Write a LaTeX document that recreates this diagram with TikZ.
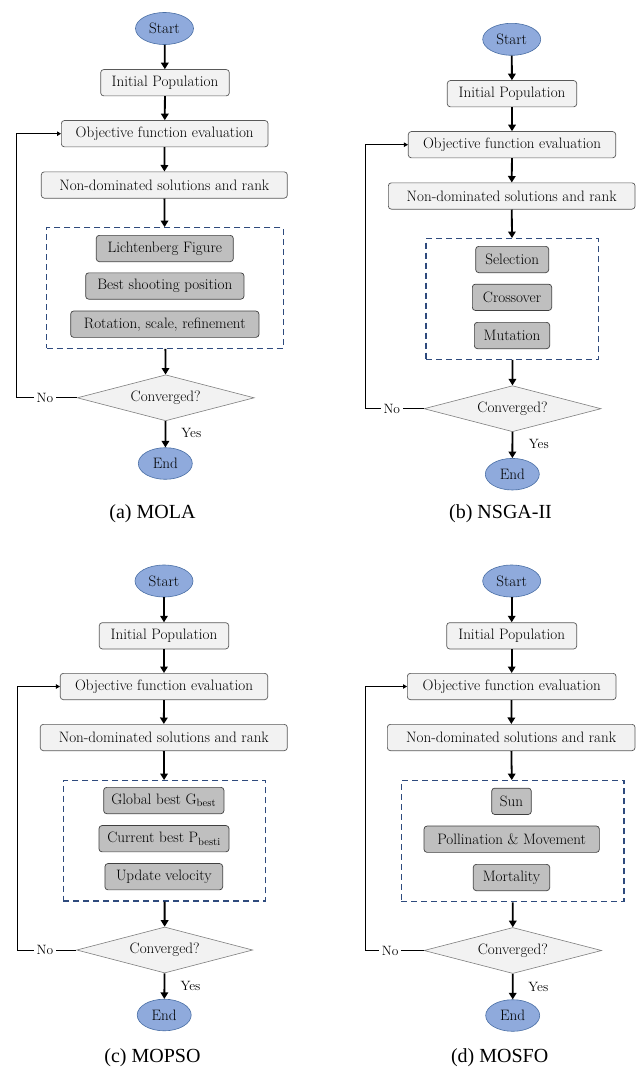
\documentclass[tikz,border=0pt]{standalone}
\usepackage{fontspec}
\newfontfamily\capfont{Liberation Serif}
\usetikzlibrary{shapes.geometric,arrows.meta}
\definecolor{startfill}{HTML}{8FAADC}
\definecolor{startdraw}{HTML}{4A6FA5}
\definecolor{lightfill}{HTML}{F2F2F2}
\definecolor{lightdraw}{HTML}{595959}
\definecolor{greyfill}{HTML}{BFBFBF}
\definecolor{greydraw}{HTML}{404040}
\definecolor{navy}{HTML}{2E4A7D}
\definecolor{diadraw}{HTML}{7F7F7F}
\tikzset{
 x=1pt,y=-1pt,
 boxfont/.style={font=\fontsize{15.1}{17}\selectfont},
 term/.style={ellipse, draw=startdraw, fill=startfill, line width=0.6pt, minimum width=58pt, minimum height=32pt, inner sep=0pt, boxfont},
 lbox/.style={rectangle, rounded corners=3pt, draw=lightdraw, fill=lightfill, line width=0.7pt, minimum height=26.3pt, inner sep=0pt, boxfont, minimum width=#1},
 gbox/.style={rectangle, rounded corners=3pt, draw=greydraw, fill=greyfill, line width=0.7pt, minimum height=26.3pt, inner sep=0pt, boxfont, minimum width=#1},
 dbox/.style={rectangle, draw=navy, line width=1.3pt, dash pattern=on 6pt off 4pt, inner sep=0pt},
 dia/.style={diamond, draw=diadraw, fill=lightfill, line width=0.6pt, aspect=3.87, inner sep=0pt, minimum width=177pt, minimum height=46pt, boxfont},
 flow/.style={-{Triangle[width=7.5pt,length=6.5pt]}, line width=1.8pt, black},
 back/.style={-{Triangle[width=4.5pt,length=4pt]}, line width=0.8pt, black},
 lbl/.style={font=\fontsize{13.5}{16}\selectfont, inner sep=3pt},
 captext/.style={font=\capfont\fontsize{20}{24}\selectfont, inner sep=0pt}
}
\begin{document}
\begin{tikzpicture}
\useasboundingbox[fill=white] (0,0) rectangle (640,1068);

% ---------- (a) MOLA ----------
\node[term] (sa) at (164.5,28.5) {Start};
\node[lbox=128.6pt] (ia) at (165,82.7) {Initial Population};
\node[lbox=206.7pt] (oa) at (164.7,133.7) {Objective function evaluation};
\node[lbox=246pt] (na) at (164.3,185) {Non-dominated solutions and rank};
\node[dbox, minimum width=236.6pt, minimum height=120.5pt] (ba) at (165,288) {};
\node[gbox=137pt] (a1) at (164.8,248.5) {Lichtenberg Figure};
\node[gbox=158.3pt] (a2) at (164.8,286) {Best shooting position};
\node[gbox=188.3pt] (a3) at (164.8,324.2) {Rotation, scale, refinement};
\node[dia] (da) at (165.7,397.8) {Converged?};
\node[term, minimum width=54pt, minimum height=31.6pt] (ea) at (165.3,463.5) {End};
\coordinate (la) at (16.7,397.8);
\draw[flow] (sa) -- (ia);
\draw[flow] (ia) -- (oa);
\draw[flow] (oa) -- (na);
\draw[flow] (na) -- (ba);
\draw[flow] (ba) -- (da);
\draw[flow] (da) -- (ea);
\draw[back] (da.west) -- (la) |- (oa.west);
\node[lbl, fill=white] (noa) at (45,397.8) {No};
\node[lbl] (yesa) at (191.3,433.3) {Yes};
\node[captext] (capa) at (152.5,514) {(a) MOLA};

% ---------- (b) NSGA-II ----------
\node[term] (sb) at (511.7,39.3) {Start};
\node[lbox=129.4pt] (ib) at (512,93.7) {Initial Population};
\node[lbox=207.4pt] (ob) at (512,144.7) {Objective function evaluation};
\node[lbox=246.7pt] (nb) at (511.7,196) {Non-dominated solutions and rank};
\node[dbox, minimum width=172.7pt, minimum height=120.6pt] (bb) at (512.35,299) {};
\node[gbox=73pt] (b1) at (512.2,259.5) {Selection};
\node[gbox=79.3pt] (b2) at (512,297.3) {Crossover};
\node[gbox=75.3pt] (b3) at (512,335.5) {Mutation};
\node[dia] (db) at (512.5,408.7) {Converged?};
\node[term, minimum width=54pt, minimum height=31.6pt] (eb) at (512.3,474.2) {End};
\coordinate (lb) at (365,408.7);
\draw[flow] (sb) -- (ib);
\draw[flow] (ib) -- (ob);
\draw[flow] (ob) -- (nb);
\draw[flow] (nb) -- (bb);
\draw[flow] (bb) -- (db);
\draw[flow] (db) -- (eb);
\draw[back] (db.west) -- (lb) |- (ob.west);
\node[lbl, fill=white] (nob) at (391.8,408.7) {No};
\node[lbl] (yesb) at (538.8,444.3) {Yes};
\node[captext] (capb) at (500.5,514) {(b) NSGA-II};

% ---------- (c) MOPSO ----------
\node[term] (sc) at (164,581) {Start};
\node[lbox=129.4pt] (ic) at (164,635.8) {Initial Population};
\node[lbox=207.4pt] (oc) at (164,686.5) {Objective function evaluation};
\node[lbox=247pt] (nc) at (163.8,737.5) {Non-dominated solutions and rank};
\node[dbox, minimum width=202.4pt, minimum height=120.3pt] (bc) at (164.5,840.85) {};
\node[gbox=120.3pt] (c1) at (163.8,800.5) {Global best G\textsubscript{best}};
\node[gbox=130pt] (c2) at (164,838.7) {Current best P\textsubscript{besti}};
\node[gbox=117.7pt] (c3) at (163.8,876.7) {Update velocity};
\node[dia, minimum width=176pt] (dc) at (164.7,950) {Converged?};
\node[term, minimum width=54pt, minimum height=31.6pt] (ec) at (164.2,1015) {End};
\coordinate (lc) at (17.3,950);
\draw[flow] (sc) -- (ic);
\draw[flow] (ic) -- (oc);
\draw[flow] (oc) -- (nc);
\draw[flow] (nc) -- (bc);
\draw[flow] (bc) -- (dc);
\draw[flow] (dc) -- (ec);
\draw[back] (dc.west) -- (lc) |- (oc.west);
\node[lbl, fill=white] (noc) at (45,950) {No};
\node[lbl] (yesc) at (190.5,985.7) {Yes};
\node[captext] (capc) at (152.5,1058) {(c) MOPSO};

% ---------- (d) MOSFO ----------
\node[term] (sd) at (511.7,581) {Start};
\node[lbox=130pt] (id) at (511.7,635.8) {Initial Population};
\node[lbox=208.7pt] (od) at (511.7,686.5) {Objective function evaluation};
\node[lbox=247.7pt] (nd) at (511.2,737.5) {Non-dominated solutions and rank};
\node[dbox, minimum width=222.7pt, minimum height=121pt] (bd) at (512.65,841.2) {};
\node[gbox=39.6pt] (d1) at (511.5,801.3) {Sun};
\node[gbox=175.3pt] (d2) at (511.7,839.2) {Pollination \& Movement};
\node[gbox=76.4pt] (d3) at (511.5,877.5) {Mortality};
\node[dia, minimum width=177.7pt] (dd) at (512.8,950.5) {Converged?};
\node[term, minimum width=54pt, minimum height=31.6pt] (ed) at (512.7,1015.5) {End};
\coordinate (ld) at (365,950.5);
\draw[flow] (sd) -- (id);
\draw[flow] (id) -- (od);
\draw[flow] (od) -- (nd);
\draw[flow] (nd) -- (bd);
\draw[flow] (bd) -- (dd);
\draw[flow] (dd) -- (ed);
\draw[back] (dd.west) -- (ld) |- (od.west);
\node[lbl, fill=white] (nod) at (390.2,950.5) {No};
\node[lbl] (yesd) at (538.3,986.7) {Yes};
\node[captext] (capd) at (499.7,1058) {(d) MOSFO};
\end{tikzpicture}
\end{document}
